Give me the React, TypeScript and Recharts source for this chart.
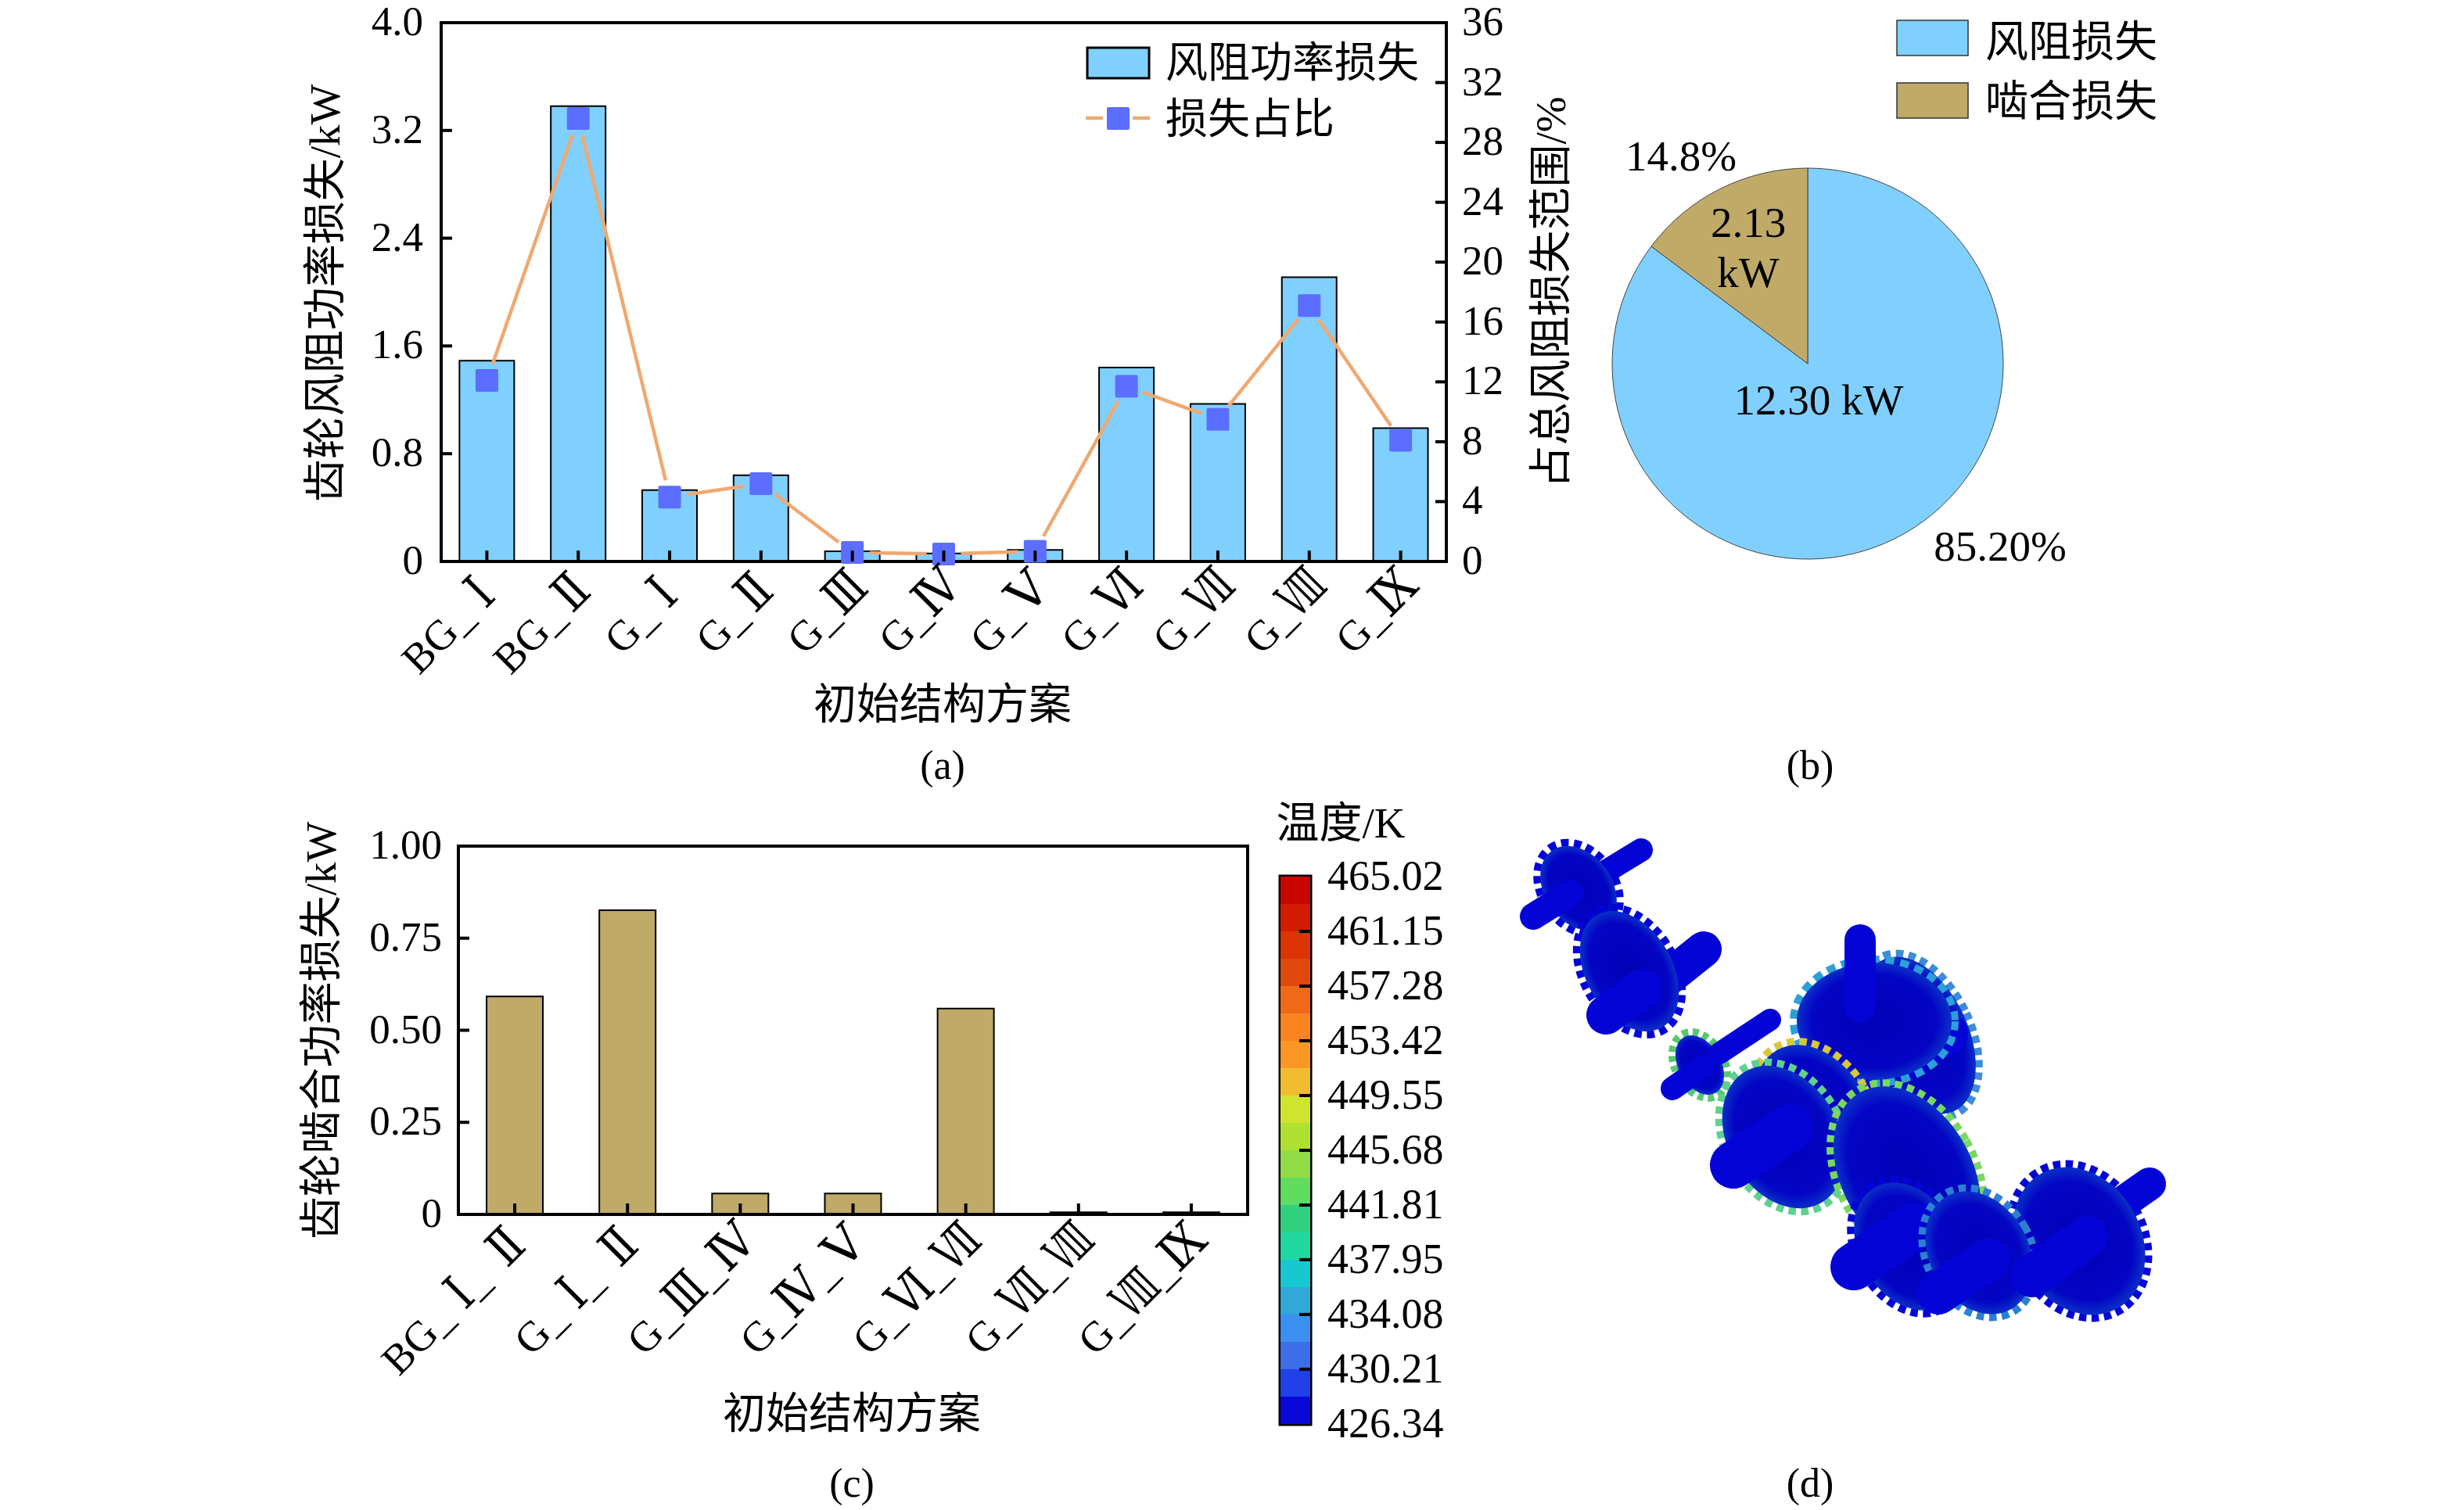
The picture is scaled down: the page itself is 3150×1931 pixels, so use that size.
import React from "react";
import { ComposedChart, BarChart, PieChart, Pie, Cell, Bar, Line, XAxis, YAxis, Label, Legend, ReferenceArea } from "recharts";

const FONT = '"Liberation Serif","DejaVu Serif","Noto Sans CJK SC",serif';
const BLUE = "#80D0FF";
const TAN = "#C0AA68";
const ORANGE = "#F0A870";
const MARK = "#5B6EFF";

// Panel (a)
const windCategories = ["BG_Ⅰ", "BG_Ⅱ", "G_Ⅰ", "G_Ⅱ", "G_Ⅲ", "G_Ⅳ", "G_Ⅴ", "G_Ⅵ", "G_Ⅶ", "G_Ⅷ", "G_Ⅸ"];
const windLoss = [1.49, 3.38, 0.53, 0.64, 0.075, 0.06, 0.085, 1.44, 1.17, 2.11, 0.99];
const lossShare = [12.1, 29.6, 4.3, 5.2, 0.6, 0.5, 0.68, 11.7, 9.5, 17.1, 8.1];
const windTicks = [0, 0.8, 1.6, 2.4, 3.2, 4.0];
const shareTicks = [0, 4, 8, 12, 16, 20, 24, 28, 32, 36];
// Panel (b)
const pieNames = ["风阻损失", "啮合损失"];
const pieValues = [12.3, 2.13];
// Panel (c)
const meshCategories = ["BG_Ⅰ_Ⅱ", "G_Ⅰ_Ⅱ", "G_Ⅲ_Ⅳ", "G_Ⅳ_Ⅴ", "G_Ⅵ_Ⅶ", "G_Ⅶ_Ⅷ", "G_Ⅷ_Ⅸ"];
const meshLoss = [0.592, 0.826, 0.057, 0.057, 0.559, 0.006, 0.006];
const meshTicks = [0, 0.25, 0.5, 0.75, 1.0];
// Panel (d) colour bar, bottom to top
const cbTicks = [426.34, 430.21, 434.08, 437.95, 441.81, 445.68, 449.55, 453.42, 457.28, 461.15, 465.02];
const cbColors = ["#0808D8", "#2040E8", "#3C6EE8", "#3A90F0", "#30A8D8", "#18C8D0", "#20D8A0", "#30D080", "#60DC60", "#90DC45", "#B0E030", "#D0E42E", "#F2BC30", "#FB9824", "#FA8420", "#EE6A18", "#E0480C", "#DC3404", "#D21C00", "#C80800"];
const cbBands = [1.934, 1.934, 1.934, 1.934, 1.934, 1.934, 1.934, 1.934, 1.934, 1.934, 1.934, 1.934, 1.934, 1.934, 1.934, 1.934, 1.934, 1.934, 1.934, 1.934];

const windData = windCategories.map((name, i) => ({ name, loss: windLoss[i], share: lossShare[i] }));
const meshData = meshCategories.map((name, i) => ({ name, loss: meshLoss[i] }));
const pieData = pieNames.map((name, i) => ({ name, value: pieValues[i] }));
const cbRow: any = { name: "T", base: cbTicks[0] };
cbBands.forEach((v, i) => (cbRow["b" + i] = v));

const AW = 1285, AH = 689;
const lineDash = (() => {
  const gap = 22;
  const band = AW / windCategories.length;
  const parts = [0, gap];
  for (let i = 0; i + 1 < lossShare.length; i++) {
    const L = Math.hypot(band, ((lossShare[i + 1] - lossShare[i]) * AH) / 36);
    parts.push(L - 2 * gap, i + 2 < lossShare.length ? 2 * gap : gap);
  }
  return parts.map((p) => p.toFixed(2)).join(" ");
})();

const T = ({ x, y, size = 53, anchor = "middle", rot, children }: any) => (
  <text x={x} y={y} fontSize={size} textAnchor={anchor} dominantBaseline="central" fontFamily={FONT} fill="#000"
    transform={rot !== undefined ? `rotate(${rot} ${x} ${y})` : undefined}>{children}</text>
);

const yTick = (fmt: (v: number) => string, side: "left" | "right", ends: number[], lx = 23) => (p: any) => {
  const s = side === "left" ? 1 : -1;
  const isEnd = ends.includes(p.payload.value);
  return (
    <g>
      {!isEnd && <line x1={p.x} x2={p.x + s * 14} y1={p.y} y2={p.y} stroke="#000" strokeWidth={4} />}
      <T x={p.x - s * lx} y={p.y - 2} anchor={side === "left" ? "end" : "start"}>{fmt(p.payload.value)}</T>
    </g>
  );
};

const ROMAN_WIDTH: Record<string, number> = { "Ⅰ": 22, "Ⅱ": 38, "Ⅲ": 50, "Ⅳ": 56, "Ⅴ": 46, "Ⅵ": 54, "Ⅶ": 56, "Ⅷ": 57, "Ⅸ": 56 };
const ADV = 57;
const labelWidth = (s: string) =>
  Array.from(s).reduce((w, c) => w + (ROMAN_WIDTH[c] ? ADV : c === "_" ? 30 : c === "B" ? 36 : 39), 0);

const xTick = (dx: number, dy: number) => (p: any) => {
  const chars = Array.from(String(p.payload.value));
  return (
    <g>
      <line x1={p.x} x2={p.x} y1={p.y} y2={p.y - 14} stroke="#000" strokeWidth={4} />
      <text transform={`translate(${p.x + dx} ${p.y + dy}) rotate(-45)`} x={-labelWidth(String(p.payload.value))} y={0} textAnchor="start" fontSize={54} fontFamily={FONT} fill="#000">
        {chars.map((c, i) => {
          const r = ROMAN_WIDTH[c];
          if (!r) return <tspan key={i}>{c}</tspan>;
          const before = (ADV - r) / 2;
          const pr = i >= 2 ? ROMAN_WIDTH[chars[i - 2]] : 0;
          const prevGap = pr ? (ADV - pr) / 2 : 0;
          return (
            <tspan key={i} dx={before + prevGap} fontSize={64} textLength={r} lengthAdjust="spacingAndGlyphs">{c}</tspan>
          );
        })}
      </text>
    </g>
  );
};

const SquareDot = (p: any) => (
  <rect key={p.index} x={p.cx - 14.5} y={p.cy - 14.5} width={29} height={29} rx={2} fill={MARK} />
);

const LegendA = () => (
  <svg width={470} height={180} style={{ display: "block" }}>
    <rect x={10} y={11} width={79} height={39} fill={BLUE} stroke="#000" strokeWidth={3} />
    <T x={110} y={31} size={54} anchor="start">风阻功率损失</T>
    <line x1={8} x2={30} y1={101} y2={101} stroke={ORANGE} strokeWidth={4.5} />
    <line x1={68} x2={90} y1={101} y2={101} stroke={ORANGE} strokeWidth={4.5} />
    <rect x={35} y={87} width={29} height={29} rx={2} fill={MARK} />
    <T x={110} y={103} size={54} anchor="start">损失占比</T>
  </svg>
);

const LegendB = () => (
  <svg width={360} height={180} style={{ display: "block" }}>
    {pieNames.map((n, i) => (
      <g key={n}>
        <rect x={1} y={1 + i * 80} width={91} height={45} fill={i === 0 ? BLUE : TAN} stroke="#333" strokeWidth={1.5} />
        <T x={114} y={28 + i * 76} size={55} anchor="start">{n}</T>
      </g>
    ))}
  </svg>
);

const PieLabel = (p: any) => {
  const { cx, cy, index } = p;
  if (index === 0)
    return (
      <g key="l0">
        <T x={cx + 14} y={cy + 46} size={55}>12.30 kW</T>
        <T x={cx + 246} y={cy + 233} size={55}>85.20%</T>
      </g>
    );
  return (
    <g key="l1">
      <T x={cx - 76} y={cy - 181} size={55}>2.13</T>
      <T x={cx - 76} y={cy - 117} size={55}>kW</T>
      <T x={cx - 162} y={cy - 266} size={55}>14.8%</T>
    </g>
  );
};

const AxisTitle = (x: number, y: number, text: string, rot?: number) => () => <T x={x} y={y} size={55} rot={rot}>{text}</T>;

const PanelA = () => (
  <ComposedChart width={2100} height={1000} data={windData} margin={{ top: 29, right: 0, bottom: 0, left: 0 }} barCategoryGap="20%">
    <Bar yAxisId="l" dataKey="loss" fill={BLUE} stroke="#000" strokeWidth={2} isAnimationActive={false} />
    <Line yAxisId="r" dataKey="share" stroke={ORANGE} strokeWidth={4.5} strokeDasharray={lineDash} dot={SquareDot} activeDot={false} isAnimationActive={false} />
    <XAxis dataKey="name" height={282} interval={0} tickSize={0} tickMargin={0} tickLine={false} tick={xTick(28, 32)} axisLine={{ stroke: "#000", strokeWidth: 4 }}>
      <Label content={AxisTitle(1205, 900, "初始结构方案")} />
    </XAxis>
    <YAxis yAxisId="l" width={564} domain={[0, 4]} ticks={windTicks} interval={0} tickSize={0} tickMargin={0} tickLine={false}
      tick={yTick((v) => (v === 0 ? "0" : v.toFixed(1)), "left", [0, 4])} axisLine={{ stroke: "#000", strokeWidth: 4 }}>
      <Label content={AxisTitle(415, 375, "齿轮风阻功率损失/kW", -90)} />
    </YAxis>
    <YAxis yAxisId="r" orientation="right" width={251} domain={[0, 36]} ticks={shareTicks} interval={0} tickSize={0} tickMargin={0} tickLine={false}
      tick={yTick((v) => String(v), "right", [0, 36], 20)} axisLine={{ stroke: "#000", strokeWidth: 4 }}>
      <Label content={AxisTitle(1982, 374, "占总风阻损失范围/%", -90)} />
    </YAxis>
    <ReferenceArea yAxisId="l" y1={0} y2={4} fill="none" stroke="#000" strokeWidth={4} fillOpacity={0} />
    <Legend layout="vertical" align="center" verticalAlign="middle" wrapperStyle={{ left: 1380, top: 50, width: 470 }} content={LegendA} />
  </ComposedChart>
);

const PanelB = () => (
  <PieChart width={800} height={800} margin={{ top: 0, right: 0, bottom: 0, left: 0 }}>
    <Pie data={pieData} dataKey="value" nameKey="name" cx={311} cy={465} innerRadius={0} outerRadius={250} startAngle={90} endAngle={-270}
      stroke="#444" strokeWidth={1} isAnimationActive={false} labelLine={false} label={PieLabel}>
      <Cell fill={BLUE} />
      <Cell fill={TAN} />
    </Pie>
    <Legend layout="vertical" align="center" verticalAlign="middle" wrapperStyle={{ left: 424, top: 25, width: 360 }} content={LegendB} />
  </PieChart>
);

const PanelC = () => (
  <ComposedChart width={1700} height={931} data={meshData} margin={{ top: 82, right: 105, bottom: 0, left: 0 }} barCategoryGap="25%">
    <Bar dataKey="loss" fill={TAN} stroke="#000" strokeWidth={2} isAnimationActive={false} />
    <XAxis dataKey="name" height={378} interval={0} tickSize={0} tickMargin={0} tickLine={false} tick={xTick(28, 32)} axisLine={{ stroke: "#000", strokeWidth: 4 }}>
      <Label content={AxisTitle(1089, 807, "初始结构方案")} />
    </XAxis>
    <YAxis width={586} domain={[0, 1]} ticks={meshTicks} interval={0} tickSize={0} tickMargin={0} tickLine={false}
      tick={yTick((v) => (v === 0 ? "0" : v.toFixed(2)), "left", [0, 1], 21)} axisLine={{ stroke: "#000", strokeWidth: 4 }}>
      <Label content={AxisTitle(410, 318, "齿轮啮合功率损失/kW", -90)} />
    </YAxis>
    <ReferenceArea y1={0} y2={1} fill="none" stroke="#000" strokeWidth={4} fillOpacity={0} />
  </ComposedChart>
);

const cbTick = (p: any) => {
  const isEnd = p.payload.value === cbTicks[0] || p.payload.value === cbTicks[10];
  return (
    <g>
      {!isEnd && <line x1={p.x} x2={p.x - 14} y1={p.y} y2={p.y} stroke="#000" strokeWidth={4} />}
      <T x={p.x + 22} y={p.y - 1} size={54} anchor="start">{p.payload.value.toFixed(2)}</T>
    </g>
  );
};

const PanelD = () => (
  <BarChart width={400} height={800} data={[cbRow]} margin={{ top: 21, right: 0, bottom: 0, left: 137 }} barCategoryGap={0}>
    <Bar stackId="s" dataKey="base" fill="none" stroke="none" isAnimationActive={false} />
    {cbBands.map((_, i) => (
      <Bar key={i} stackId="s" dataKey={"b" + i} fill={cbColors[i]} isAnimationActive={false} />
    ))}
    <XAxis dataKey="name" height={79} tick={false} tickLine={false} axisLine={false} />
    <YAxis orientation="right" width={225} domain={[cbTicks[0], cbTicks[10]]} allowDataOverflow ticks={cbTicks} interval={0} tickSize={0} tickMargin={0} tickLine={false} tick={cbTick} axisLine={false} />
    <ReferenceArea y1={cbTicks[0]} y2={cbTicks[10]} fill="none" stroke="#000" strokeWidth={5} fillOpacity={0} />
  </BarChart>
);

// Illustration (d): simplified gear train
const DEEP = "#0404D6";
const Gear = ({ cx, cy, rx, ry, rot, teeth, dash = 13 }: any) => (
  <g transform={`rotate(${rot} ${cx} ${cy})`}>
    <ellipse cx={cx} cy={cy} rx={rx - 8} ry={ry - 8} fill="none" stroke={teeth} strokeWidth={16} strokeDasharray={`${dash} ${dash * 0.7}`} />
    <ellipse cx={cx} cy={cy} rx={rx - 9} ry={ry - 9} fill="url(#disc)" />
  </g>
);
const Shaft = ({ x1, y1, x2, y2, w, c = DEEP }: any) => (
  <line x1={x1} y1={y1} x2={x2} y2={y2} stroke={c} strokeWidth={w} strokeLinecap="round" />
);
const GearScene = () => (
  <svg width={3150} height={1931} style={{ position: "absolute", left: 0, top: 0, pointerEvents: "none" }}>
    <defs>
      <radialGradient id="disc">
        <stop offset="0%" stopColor="#0202B8" />
        <stop offset="80%" stopColor="#0404C4" />
        <stop offset="100%" stopColor="#0A30C8" />
      </radialGradient>
    </defs>
    <g transform="translate(8 2)">
      <Shaft x1={1980} y1={1152} x2={2090} y2={1085} w={30} />
      <Gear cx={2010} cy={1134} rx={52} ry={68} rot={-35} teeth={DEEP} dash={9} />
      <Shaft x1={1952} y1={1170} x2={2000} y2={1140} w={34} />
      <Shaft x1={2110} y1={1260} x2={2170} y2={1212} w={46} />
      <Gear cx={2075} cy={1240} rx={64} ry={92} rot={-30} teeth={DEEP} dash={9} />
      <Shaft x1={2045} y1={1296} x2={2092} y2={1262} w={50} />
      <Gear cx={2445} cy={1322} rx={72} ry={116} rot={-25} teeth="#3C8CD8" dash={9} />
      <Shaft x1={2340} y1={1395} x2={2480} y2={1320} w={56} />
      <Gear cx={2388} cy={1304} rx={108} ry={84} rot={0} teeth="#2CA0D8" dash={11} />
      <Shaft x1={2370} y1={1200} x2={2370} y2={1285} w={40} />
      <Gear cx={2165} cy={1360} rx={36} ry={50} rot={-30} teeth="#58C870" dash={7} />
      <Shaft x1={2190} y1={1345} x2={2255} y2={1302} w={28} />
      <Shaft x1={2130} y1={1390} x2={2170} y2={1362} w={30} />
      <Gear cx={2312} cy={1425} rx={78} ry={106} rot={-30} teeth="#D8C838" dash={9} />
      <Gear cx={2272} cy={1452} rx={80} ry={106} rot={-30} teeth="#60D090" dash={9} />
      <Shaft x1={2208} y1={1488} x2={2280} y2={1440} w={60} />
      <Gear cx={2430} cy={1500} rx={92} ry={130} rot={-30} teeth="#78D860" dash={9} />
      <Gear cx={2432} cy={1592} rx={72} ry={96} rot={-30} teeth={DEEP} dash={9} />
      <Shaft x1={2362} y1={1618} x2={2440} y2={1566} w={60} />
      <Shaft x1={2700} y1={1540} x2={2740} y2={1512} w={42} />
      <Gear cx={2650} cy={1585} rx={88} ry={108} rot={-30} teeth={DEEP} dash={9} />
      <Gear cx={2522} cy={1600} rx={72} ry={92} rot={-30} teeth="#2C80D0" dash={9} />
      <Shaft x1={2470} y1={1652} x2={2535} y2={1608} w={54} />
      <Shaft x1={2590} y1={1630} x2={2660} y2={1580} w={54} />
    </g>
    <T x={1714} y={1052} size={55}>温度/K</T>
    <T x={1205} y={978} size={52}>(a)</T>
    <T x={2314} y={978} size={52}>(b)</T>
    <T x={1089} y={1896} size={52}>(c)</T>
    <T x={2314} y={1896} size={52}>(d)</T>
  </svg>
);

const Abs = ({ x, y, children }: any) => <div style={{ position: "absolute", left: x, top: y }}>{children}</div>;

export default function App() {
  return (
    <div style={{ position: "absolute", left: 0, top: 0, width: 3150, height: 1931, background: "#fff", fontFamily: FONT, overflow: "hidden" }}>
      <Abs x={0} y={0}><PanelA /></Abs>
      <Abs x={2000} y={0}><PanelB /></Abs>
      <Abs x={0} y={1000}><PanelC /></Abs>
      <Abs x={1500} y={1100}><PanelD /></Abs>
      <GearScene />
    </div>
  );
}
